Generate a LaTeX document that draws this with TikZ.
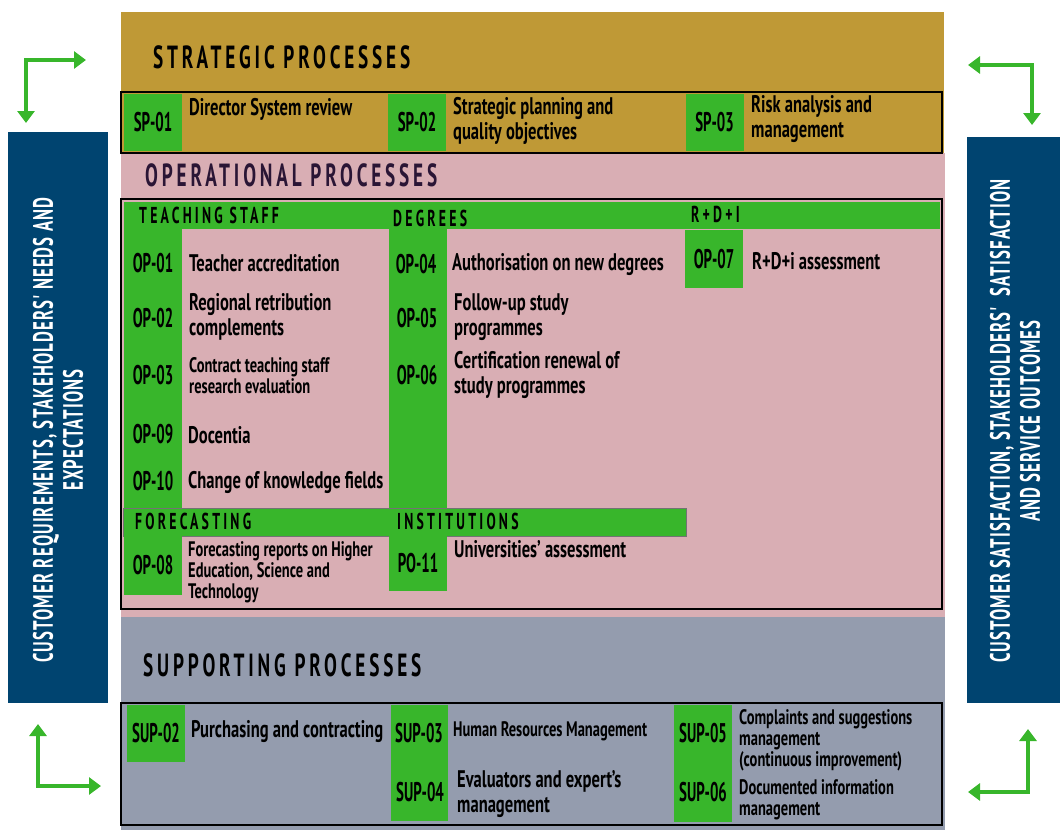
\documentclass[tikz,border=0pt]{standalone}
\usepackage{fontspec}
\setmainfont{PT Sans}[FakeStretch=0.69]
\newfontfamily\codefont{PT Sans}[FakeStretch=0.55]
\newfontfamily\headfont{PT Sans}[FakeStretch=0.6]
\usetikzlibrary{arrows.meta}
\definecolor{gold}{RGB}{191,153,54}
\definecolor{rose}{RGB}{217,174,180}
\definecolor{slate}{RGB}{148,156,174}
\definecolor{leaf}{RGB}{56,182,43}
\definecolor{navy}{RGB}{0,68,112}
\definecolor{plum}{RGB}{42,21,53}
\newcommand{\txtbig}{\bfseries\fontsize{24}{25}\selectfont}
\newcommand{\txtsmall}{\bfseries\fontsize{21}{21}\selectfont}
\newcommand{\txtcode}{\codefont\bfseries\fontsize{27}{27}\selectfont}
\newcommand{\txthead}{\headfont\bfseries\fontsize{32}{32}\selectfont\addfontfeature{LetterSpace=12}}
\newcommand{\txtbar}{\headfont\bfseries\fontsize{23}{23}\selectfont\addfontfeature{LetterSpace=14}}
\newcommand{\txtside}{\headfont\bfseries\fontsize{28}{30}\selectfont\addfontfeature{LetterSpace=4}}
\tikzset{
  cell/.style={fill=leaf,minimum width=58pt,inner sep=0pt,font=\txtcode},
  code/.style={inner sep=0pt,font=\txtcode},
  desc/.style={anchor=west,align=left,inner sep=0pt,font=\txtbig},
  descsmall/.style={desc,font=\txtsmall},
  heading/.style={anchor=west,inner sep=0pt,font=\txthead},
  barhead/.style={anchor=west,inner sep=0pt,font=\txtbar},
  frame/.style={draw=black,line width=2.5pt},
  flow/.style={draw=leaf,line width=4pt,{Triangle[width=17pt,length=12pt]}-{Triangle[width=17pt,length=12pt]}}
}
\begin{document}
\begin{tikzpicture}[x=1pt,y=-1pt]
\useasboundingbox (0,0) rectangle (1060,830);
\fill[gold] (121,12) rectangle (944,153);
\fill[rose] (121,153) rectangle (945,617);
\fill[slate] (121,617) rectangle (945,830);
\fill[navy] (8,132) rectangle (108,703);
\fill[navy] (967,137) rectangle (1060,703);

\fill[leaf] (124,202) rectangle (940,229);
\fill[leaf] (124,229) rectangle (182,508);
\fill[leaf] (389,229) rectangle (447,508);
\draw[fill=leaf,draw=black!55,line width=1pt] (123,508) rectangle (686,536);
\fill[leaf] (391,705) rectangle (448,821);
\fill[leaf] (674,705) rectangle (732,822);

\node[heading] (strat) at (153,57) {STRATEGIC PROCESSES};
\node[heading,text=plum] (oper) at (145,175) {OPERATIONAL PROCESSES};
\node[heading] (supp) at (143,665) {SUPPORTING PROCESSES};

\begin{scope}[every node/.style={barhead}]
    \node (teach) at (139,215) {TEACHING STAFF};
    \node (degr) at (393,218) {DEGREES};
    \node (rdi) at (691,214) {R+D+I};
    \node (fore) at (135,521) {FORECASTING};
    \node (inst) at (397,521) {INSTITUTIONS};
\end{scope}

\node[cell,minimum height=57pt] (sp1) at (153,122) {SP-01};
\node[cell,minimum height=57pt] (sp2) at (417,122) {SP-02};
\node[cell,minimum height=57pt] (sp3) at (714.5,122) {SP-03};
\node[cell,minimum height=58pt] (op7) at (714,259) {OP-07};
\node[cell,minimum height=59pt] (op8) at (153,565.5) {OP-08};
\node[cell,minimum height=55pt] (po11) at (418,563.5) {PO-11};
\node[cell,minimum height=57pt] (sup2) at (156,733.5) {SUP-02};

\node[code] (op1) at (153,263) {OP-01};
\node[code] (op2) at (153,318) {OP-02};
\node[code] (op3) at (153,375) {OP-03};
\node[code] (op9) at (153,434) {OP-09};
\node[code] (op10) at (153,481) {OP-10};
\node[code] (op4) at (416,264) {OP-04};
\node[code] (op5) at (417,318) {OP-05};
\node[code] (op6) at (417,375) {OP-06};
\node[code] (sup3) at (419,733) {SUP-03};
\node[code] (sup4) at (420,792) {SUP-04};
\node[code] (sup5) at (703,733) {SUP-05};
\node[code] (sup6) at (703,792) {SUP-06};

\node[desc] (sp1t) at (189,109) {Director System review};
\node[desc] (sp2t) at (453,121) {Strategic planning and\\quality objectives};
\node[desc] (sp3t) at (751,119) {Risk analysis and\\management};
\node[desc] (op1t) at (189,263) {Teacher accreditation};
\node[desc] (op2t) at (189,317) {Regional retribution\\complements};
\node[descsmall] (op3t) at (189,376) {Contract teaching staff\\research evaluation};
\node[desc] (op9t) at (188,435) {Docentia};
\node[desc] (op10t) at (188,482) {Change of knowledge fields};
\node[desc] (op4t) at (452,265) {Authorisation on new degrees};
\node[desc] (op5t) at (454,317) {Follow-up study\\programmes};
\node[desc] (op6t) at (454,375) {Certification renewal of\\study programmes};
\node[desc] (op7t) at (752,261) {R+D+i assessment};
\node[descsmall] (op8t) at (188,572) {Forecasting reports on Higher\\Education, Science and\\Technology};
\node[desc] (po11t) at (454,549) {Universities' assessment};
\node[desc] (sup2t) at (191,732) {Purchasing and contracting};
\node[descsmall] (sup3t) at (453,731) {Human Resources Management};
\node[desc] (sup4t) at (457,794) {Evaluators and expert's\\management};
\node[descsmall] (sup5t) at (739,740) {Complaints and suggestions\\management\\(continuous improvement)};
\node[descsmall] (sup6t) at (739,800) {Documented information\\management};

\draw[frame] (121,92) rectangle (942,153);
\draw[frame] (121,199) rectangle (942,609);
\draw[frame] (121,703) rectangle (942,825);

\node[rotate=90,align=center,text=white,font=\txtside] (needs) at (58,430)
  {CUSTOMER REQUIREMENTS, STAKEHOLDERS' NEEDS AND\\EXPECTATIONS};
\node[rotate=90,align=center,text=white,font=\txtside] (outcomes) at (1015,421)
  {CUSTOMER SATISFACTION, STAKEHOLDERS'\ \ SATISFACTION\\AND SERVICE OUTCOMES};

\coordinate (tlc) at (26,60);
\coordinate (tla) at (86,60);
\coordinate (tlb) at (26,123);
\coordinate (trc) at (1032,65);
\coordinate (tra) at (968,65);
\coordinate (trb) at (1032,125);
\coordinate (blc) at (38,786);
\coordinate (bla) at (38,724);
\coordinate (blb) at (101,786);
\coordinate (brc) at (1028,792);
\coordinate (bra) at (1028,729);
\coordinate (brb) at (968,792);
\draw[flow] (tla) -- (tlc) -- (tlb);
\draw[flow] (tra) -- (trc) -- (trb);
\draw[flow] (bla) -- (blc) -- (blb);
\draw[flow] (bra) -- (brc) -- (brb);
\end{tikzpicture}
\end{document}
